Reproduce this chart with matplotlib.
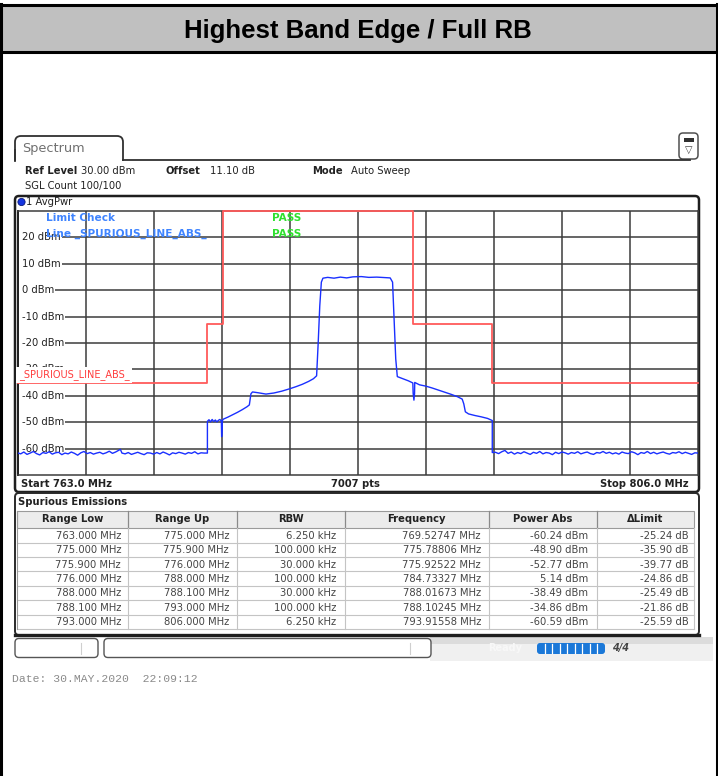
import matplotlib
matplotlib.use('Agg')
import matplotlib.pyplot as plt
from matplotlib.patches import Rectangle, FancyBboxPatch

W, H, DPI = 718, 776, 100

# ---------------- data ----------------
start_mhz = 763.0
stop_mhz = 806.0
top_level = 30.0
bottom_level = -70.0
x_divisions = 10
y_tick_levels = [20, 10, 0, -10, -20, -30, -40, -50, -60]
y_tick_labels = ['20 dBm', '10 dBm', '0 dBm', '-10 dBm', '-20 dBm', '-30 dBm',
                 '-40 dBm', '-50 dBm', '-60 dBm']

limit_freq = [763.0, 775.0, 775.0, 776.0, 776.0, 788.0, 788.0, 793.0, 793.0, 806.0]
limit_level = [-35, -35, -13, -13, 30, 30, -13, -13, -35, -35]
limit_name = '_SPURIOUS_LINE_ABS_'

noise_lo_freq = [763.0, 763.2, 763.4, 763.6, 763.8, 764.0, 764.2, 764.4, 764.6, 764.8,
                 765.0, 765.2, 765.4, 765.6, 765.8, 766.0, 766.2, 766.4, 766.6, 766.8,
                 767.0, 767.2, 767.4, 767.6, 767.8, 768.0, 768.2, 768.4, 768.6, 768.8,
                 769.0, 769.2, 769.5, 769.6, 769.8, 770.0, 770.2, 770.4, 770.6, 770.8,
                 771.0, 771.2, 771.4, 771.6, 771.8, 772.0, 772.2, 772.4, 772.6, 772.8,
                 773.0, 773.2, 773.4, 773.6, 773.8, 774.0, 774.2, 774.4, 774.6, 774.8]
noise_lo_level = [-61.5, -61.9, -61.2, -62.1, -61.6, -61.0, -61.8, -62.3, -61.4, -61.7,
                  -61.1, -62.0, -61.5, -61.3, -62.2, -61.6, -61.9, -61.2, -61.7, -62.4,
                  -61.5, -61.0, -61.8, -61.4, -62.0, -61.6, -61.3, -61.9, -61.5, -60.9,
                  -61.7, -61.2, -60.2, -61.6, -61.9, -61.4, -62.1, -61.7, -61.3, -61.8,
                  -62.2, -61.5, -61.6, -62.0, -61.4, -61.9, -61.2, -61.7, -62.3, -61.5,
                  -61.8, -61.3, -61.6, -62.0, -61.4, -61.7, -61.1, -61.9, -61.5, -61.6]

main_freq = [775.0, 775.0, 775.1, 775.2, 775.3, 775.4, 775.5, 775.6, 775.7, 775.79,
             775.88, 775.9, 775.925, 775.95, 776.0, 776.3, 776.6, 776.9, 777.2, 777.5,
             777.65, 777.75, 777.85, 778.2, 778.7, 779.2, 779.7, 780.2, 780.6, 781.0,
             781.4, 781.7, 781.9, 782.0, 782.1, 782.2, 782.3, 782.6, 783.0, 783.4,
             783.8, 784.2, 784.73, 785.2, 785.7, 786.2, 786.55, 786.7, 786.8, 786.9,
             787.0, 787.3, 787.7, 787.98, 788.0, 788.05, 788.09, 788.1, 788.4, 788.8,
             789.2, 789.6, 790.0, 790.4, 790.8, 791.1, 791.2, 791.3, 791.5, 791.9,
             792.3, 792.7, 793.0, 793.0]
main_level = [-61.6, -49.6, -49.0, -49.8, -48.9, -49.7, -49.1, -49.8, -49.2, -48.9,
              -49.5, -55.4, -52.8, -49.3, -48.8, -48.0, -47.1, -46.2, -45.2, -44.1,
              -43.4, -39.2, -38.5, -38.8, -39.3, -38.9, -38.2, -37.3, -36.5, -35.6,
              -34.5, -33.5, -32.4, -20.0, -6.0, 3.0, 4.5, 4.8, 4.5, 4.9,
              4.6, 5.0, 5.1, 4.8, 4.9, 4.7, 4.6, 3.0, -12.0, -26.0,
              -32.7, -33.4, -34.3, -35.1, -39.0, -41.6, -39.0, -34.9, -35.8, -36.3,
              -37.0, -37.8, -38.6, -39.4, -40.3, -41.2, -43.0, -46.0, -46.8, -47.4,
              -47.9, -48.5, -49.3, -61.4]

noise_hi_freq = [793.2, 793.4, 793.6, 793.8, 794.0, 794.2, 794.4, 794.6, 794.8, 795.0,
                 795.2, 795.4, 795.6, 795.8, 796.0, 796.2, 796.4, 796.6, 796.8, 797.0,
                 797.2, 797.4, 797.6, 797.8, 798.0, 798.2, 798.4, 798.6, 798.8, 799.0,
                 799.2, 799.4, 799.6, 799.8, 800.0, 800.2, 800.4, 800.6, 800.8, 801.0,
                 801.2, 801.4, 801.6, 801.8, 802.0, 802.2, 802.4, 802.6, 802.8, 803.0,
                 803.2, 803.4, 803.6, 803.8, 804.0, 804.2, 804.4, 804.6, 804.8, 805.0,
                 805.2, 805.4, 805.6, 805.8, 806.0]
noise_hi_level = [-61.3, -61.8, -61.1, -60.6, -61.7, -61.2, -62.0, -61.4, -61.8, -61.1,
                  -61.6, -62.1, -61.3, -61.7, -61.0, -61.9, -61.4, -61.6, -62.2, -61.3,
                  -61.8, -61.2, -61.5, -62.0, -61.4, -61.7, -61.1, -61.9, -61.5, -61.2,
                  -61.8, -62.1, -61.4, -61.6, -61.0, -61.7, -61.3, -61.9, -61.5, -62.0,
                  -61.2, -61.6, -61.8, -61.1, -61.5, -62.2, -61.4, -61.7, -61.0, -61.8,
                  -61.3, -61.9, -61.5, -61.2, -61.7, -62.0, -61.4, -61.6, -61.1, -61.8,
                  -61.3, -61.7, -62.1, -61.5, -61.6]

col_headers = ['Range Low', 'Range Up', 'RBW', 'Frequency', 'Power Abs', '\u0394Limit']
range_low = ['763.000 MHz', '775.000 MHz', '775.900 MHz', '776.000 MHz',
             '788.000 MHz', '788.100 MHz', '793.000 MHz']
range_up = ['775.000 MHz', '775.900 MHz', '776.000 MHz', '788.000 MHz',
            '788.100 MHz', '793.000 MHz', '806.000 MHz']
rbw = ['6.250 kHz', '100.000 kHz', '30.000 kHz', '100.000 kHz',
       '30.000 kHz', '100.000 kHz', '6.250 kHz']
peak_freq = ['769.52747 MHz', '775.78806 MHz', '775.92522 MHz', '784.73327 MHz',
             '788.01673 MHz', '788.10245 MHz', '793.91558 MHz']
power_abs = ['-60.24 dBm', '-48.90 dBm', '-52.77 dBm', '5.14 dBm',
             '-38.49 dBm', '-34.86 dBm', '-60.59 dBm']
delta_limit = ['-25.24 dB', '-35.90 dB', '-39.77 dB', '-24.86 dB',
               '-25.49 dB', '-21.86 dB', '-25.59 dB']

title = 'Highest Band Edge / Full RB'
date_text = 'Date: 30.MAY.2020  22:09:12'

# ---------------- style ----------------
FS = 7.2
SANS = 'DejaVu Sans'
TRACE = '#1a30ff'
LIMIT = '#ff5a5a'
GRID = '#3c3c3c'
TXT = '#222222'
TBL = '#454545'

fig = plt.figure(figsize=(W / DPI, H / DPI), dpi=DPI)
fig.patch.set_facecolor('white')

bg = fig.add_axes([0, 0, 1, 1])
bg.set_xlim(0, W)
bg.set_ylim(H, 0)
bg.axis('off')

# outer frame + title band
bg.add_patch(Rectangle((0, 5), W, 47, facecolor='#c0c0c0', edgecolor='none'))
bg.plot([0, W], [5, 5], color='black', lw=2.2, solid_capstyle='butt')
bg.plot([0, W], [52, 52], color='black', lw=2.2, solid_capstyle='butt')
bg.plot([1.2, 1.2], [4, H], color='black', lw=2.2)
bg.plot([716.5, 716.5], [4, H], color='black', lw=2.2)
bg.text(358, 31, title, ha='center', va='center', fontsize=18.5, fontweight='bold',
        family='Liberation Sans', color='black')

# Spectrum tab
bg.add_patch(FancyBboxPatch((15, 136), 108, 30, boxstyle='round,pad=0,rounding_size=6',
                            facecolor='white', edgecolor='#303030', lw=1.3))
bg.add_patch(Rectangle((13, 160.5), 112, 10, facecolor='white', edgecolor='none'))
bg.plot([15, 15], [150, 161], color='#303030', lw=1.3)
bg.plot([123, 690], [160.3, 160.3], color='#303030', lw=1.3)
bg.text(22, 148.5, 'Spectrum', ha='left', va='center', fontsize=9.3, family=SANS,
        color='#707070')
# top-right icon
bg.add_patch(FancyBboxPatch((679, 133), 19, 26, boxstyle='round,pad=0,rounding_size=4',
                            facecolor='white', edgecolor='#505050', lw=1.1))
bg.add_patch(Rectangle((683.5, 137.5), 10, 4.5, facecolor='#303030', edgecolor='none'))
bg.text(688.5, 150, '\u25bd', ha='center', va='center', fontsize=7, color='#404040',
        family=SANS)

# header info
bg.text(25, 171.5, 'Ref Level', fontsize=FS, fontweight='bold', family=SANS, color=TXT,
        va='center')
bg.text(81, 171.5, '30.00 dBm', fontsize=FS, family=SANS, color=TXT, va='center')
bg.text(165, 171.5, 'Offset', fontsize=FS, fontweight='bold', family=SANS, color=TXT,
        va='center')
bg.text(210, 171.5, '11.10 dB', fontsize=FS, family=SANS, color=TXT, va='center')
bg.text(312, 171.5, 'Mode', fontsize=FS, fontweight='bold', family=SANS, color=TXT,
        va='center')
bg.text(351, 171.5, 'Auto Sweep', fontsize=FS, family=SANS, color=TXT, va='center')
bg.text(25, 185.5, 'SGL Count 100/100', fontsize=FS, family=SANS, color=TXT, va='center')

# trace window frame
bg.add_patch(FancyBboxPatch((15, 196), 684, 296, boxstyle='round,pad=0,rounding_size=4',
                            facecolor='white', edgecolor='#1e1e1e', lw=1.8))
bg.add_patch(plt.Circle((21.5, 202), 3.6, facecolor='#1535e0', edgecolor='#0a1a80', lw=0.6))
bg.text(26.5, 202, '1 AvgPwr', fontsize=FS, family=SANS, color=TXT, va='center')
bg.text(21, 484, f'Start {start_mhz:.1f} MHz', fontsize=FS, fontweight='bold',
        family=SANS, color=TXT, va='center')
bg.text(355, 484, '7007 pts', fontsize=FS, fontweight='bold', family=SANS, color=TXT,
        va='center', ha='center')
bg.text(689, 484, f'Stop {stop_mhz:.1f} MHz', fontsize=FS, fontweight='bold',
        family=SANS, color=TXT, va='center', ha='right')

# ---------------- spectrum axes ----------------
px_left, px_right, px_top, px_bottom = 17.5, 698.0, 210.7, 475.3
ax = fig.add_axes([px_left / W, 1 - px_bottom / H, (px_right - px_left) / W,
                   (px_bottom - px_top) / H])
ax.set_facecolor('white')
ax.set_xlim(start_mhz, stop_mhz)
ax.set_ylim(bottom_level, top_level)
span = stop_mhz - start_mhz
for k in range(1, x_divisions):
    ax.axvline(start_mhz + span * k / x_divisions, color=GRID, lw=1.1, zorder=0.5)
for lvl in y_tick_levels:
    ax.axhline(lvl, color=GRID, lw=1.1, zorder=0.5)
ax.set_xticks([])
ax.set_yticks([])
for s in ax.spines.values():
    s.set_color(GRID)
    s.set_linewidth(1.1)
ax.spines['left'].set_color('#1e1e1e')
ax.spines['left'].set_linewidth(1.4)

for lvl, lab in zip(y_tick_levels, y_tick_labels):
    ax.add_patch(Rectangle((start_mhz, lvl - 1.5), 0.32, 3.0, facecolor='white',
                           edgecolor='none', zorder=1.5))
    ax.text(start_mhz + 0.3, lvl, lab, fontsize=FS, family=SANS, color=TXT,
            ha='left', va='center', zorder=2,
            bbox=dict(facecolor='white', edgecolor='none', pad=0.7))

ax.plot(limit_freq, limit_level, color=LIMIT, lw=1.3, zorder=3, clip_on=False)

trace_f = noise_lo_freq + main_freq + noise_hi_freq
trace_l = noise_lo_level + main_level + noise_hi_level
ax.plot(trace_f, trace_l, color=TRACE, lw=1.0, zorder=4)

ax.text(start_mhz + 0.1, limit_level[0] + 0.9, limit_name, fontsize=7.0, family=SANS,
        color='#ff3c3c', ha='left', va='bottom', zorder=5,
        bbox=dict(facecolor='white', edgecolor='none', pad=1.9))

ov = bg.transData
ax.text(46, 218, 'Limit Check', transform=ov, fontsize=7.6, fontweight='bold',
        family=SANS, color='#3f84ff', va='center', zorder=6)
ax.text(46, 234, 'Line ' + limit_name, transform=ov, fontsize=7.6, fontweight='bold',
        family=SANS, color='#3f84ff', va='center', zorder=6)
ax.text(272, 218, 'PASS', transform=ov, fontsize=7.6, fontweight='bold', family=SANS,
        color='#2fe02f', va='center', zorder=6)
ax.text(272, 234, 'PASS', transform=ov, fontsize=7.6, fontweight='bold', family=SANS,
        color='#2fe02f', va='center', zorder=6)

# ---------------- table ----------------
bg.add_patch(FancyBboxPatch((15, 493), 684, 142, boxstyle='round,pad=0,rounding_size=4',
                            facecolor='white', edgecolor='#2a2a2a', lw=1.4))
bg.plot([15, 699], [634.5, 634.5], color='#1e1e1e', lw=2.4)
bg.text(18, 502, 'Spurious Emissions', fontsize=FS, fontweight='bold', family=SANS,
        color=TXT, va='center')
col_edges = [17, 127.5, 236.5, 344.5, 488.5, 596.5, 693.5]
col_right = [121, 229, 336, 481, 588, 689]
row_y0 = 528.3
row_h = 14.4
bg.add_patch(Rectangle((17, 511), 676.5, 17, facecolor='#ececec', edgecolor='#9a9a9a',
                       lw=0.8))
for x in col_edges[1:-1]:
    bg.plot([x, x], [511, 528], color='#8a8a8a', lw=0.9)
for i, name in enumerate(col_headers):
    xc = (col_edges[i] + col_edges[i + 1]) / 2
    bg.text(xc, 519.5, name, fontsize=FS, fontweight='bold', family=SANS, color=TXT,
            ha='center', va='center')
columns = [range_low, range_up, rbw, peak_freq, power_abs, delta_limit]
n_rows = len(range_low)
for r in range(n_rows):
    y_top = row_y0 + r * row_h
    bg.plot([17, 693.5], [y_top + row_h, y_top + row_h], color='#c4c4c4', lw=0.8)
    for c, col in enumerate(columns):
        bg.text(col_right[c], y_top + row_h / 2 + 0.3, col[r], fontsize=FS, family=SANS,
                color=TBL, ha='right', va='center')
for x in col_edges[1:]:
    bg.plot([x, x], [528, row_y0 + n_rows * row_h], color='#c4c4c4', lw=0.8)
bg.plot([17, 17], [511, row_y0 + n_rows * row_h], color='#9a9a9a', lw=0.8)

# ---------------- status bar ----------------
bg.add_patch(Rectangle((430, 637), 283, 24, facecolor='#f0f0f0', edgecolor='none'))
bg.add_patch(Rectangle((430, 637), 283, 7, facecolor='#dcdcdc', edgecolor='none'))
bg.add_patch(FancyBboxPatch((15, 638.5), 83, 19, boxstyle='round,pad=0,rounding_size=4',
                            facecolor='white', edgecolor='#555555', lw=1.0))
bg.add_patch(FancyBboxPatch((104, 638.5), 327, 19, boxstyle='round,pad=0,rounding_size=4',
                            facecolor='white', edgecolor='#555555', lw=1.0))
bg.plot([81, 81], [643, 654], color='#cfcfcf', lw=0.8)
bg.plot([410, 410], [643, 654], color='#cfcfcf', lw=0.8)
bg.text(488, 648, 'Ready', fontsize=7.0, fontweight='bold', family=SANS, color='#f8f8f8',
        va='center')
bg.add_patch(FancyBboxPatch((537, 643), 68, 11, boxstyle='round,pad=0,rounding_size=3',
                            facecolor='#1b78d8', edgecolor='none'))
for k in range(1, 9):
    xs = 537 + 68 * k / 9
    bg.plot([xs, xs], [644, 653], color='white', lw=0.9)
bg.text(612, 648.5, '4/4', fontsize=7.0, fontweight='bold', style='italic', family=SANS,
        color='#444444', va='center')

bg.text(12, 679, date_text, fontsize=8.2, family='Liberation Mono', color='#8a8a8a',
        va='center')

fig.savefig('out.png', dpi=DPI, facecolor='white')
